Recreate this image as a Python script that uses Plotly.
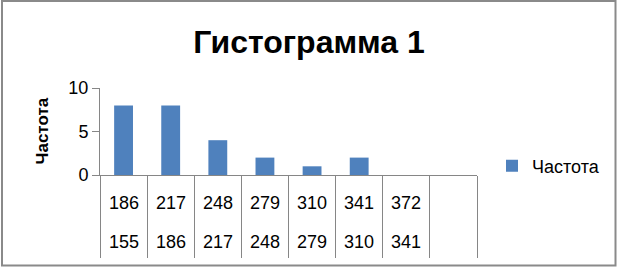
import plotly.graph_objects as go

# Data
upper_labels = ["186", "217", "248", "279", "310", "341", "372", ""]
lower_labels = ["155", "186", "217", "248", "279", "310", "341", ""]
frequency = [8, 8, 4, 2, 1, 2, 0, None]
series_name = "Частота"
title_text = "Гистограмма 1"
y_ticks = [0, 5, 10]

W, H = 617, 267
L, R, T, B = 100, 140, 88, 92
pw = W - L - R
ph = H - T - B

axis_gray = "#868686"
font_family = "Liberation Sans, Arial, sans-serif"

idx = list(range(len(upper_labels)))

fig = go.Figure()
fig.add_trace(go.Bar(
    x=idx, y=frequency, name=series_name,
    marker=dict(color="#4F81BD", line=dict(width=0)),
    width=0.4, showlegend=True,
))

def py(pix):
    return (T + ph - pix) / ph

def px(pix):
    return (pix - L) / pw

annotations = []
for i in idx:
    annotations.append(dict(x=i, xref="x", y=py(203), yref="paper",
                            text=upper_labels[i], showarrow=False,
                            font=dict(size=18, color="#000", family=font_family),
                            xanchor="center", yanchor="middle"))
    annotations.append(dict(x=i, xref="x", y=py(241.5), yref="paper",
                            text=lower_labels[i], showarrow=False,
                            font=dict(size=18, color="#000", family=font_family),
                            xanchor="center", yanchor="middle"))
annotations.append(dict(x=px(42), xref="paper", y=py(131.5), yref="paper",
                        text=series_name, textangle=-90, showarrow=False,
                        font=dict(size=17, color="#000", family=font_family, weight="bold"),
                        xanchor="center", yanchor="middle"))

fig.update_layout(
    width=W, height=H,
    margin=dict(l=L, r=R, t=T, b=B, autoexpand=False),
    paper_bgcolor="white", plot_bgcolor="white",
    font=dict(family=font_family, size=18, color="#000"),
    title=dict(text=title_text, x=309 / W, xref="container", xanchor="center",
               y=1 - 42 / H, yref="container", yanchor="middle",
               font=dict(size=32, color="#000", family=font_family, weight="bold")),
    xaxis=dict(range=[-0.5, len(idx) - 0.5], tickmode="array",
               tickvals=[i - 0.5 for i in range(len(idx) + 1)],
               ticks="outside", ticklen=82, tickcolor=axis_gray, tickwidth=1,
               showticklabels=False, showgrid=False, zeroline=False,
               showline=True, linecolor=axis_gray, linewidth=1, fixedrange=True),
    yaxis=dict(range=[0, 10], tickmode="array", tickvals=y_ticks,
               ticks="outside", ticklen=7, tickcolor=axis_gray, tickwidth=1,
               tickfont=dict(size=18, color="#000"),
               showgrid=False, zeroline=False, showline=True,
               linecolor=axis_gray, linewidth=1, fixedrange=True),
    legend=dict(xref="container", yref="container", x=492 / W, xanchor="left",
                y=1 - 166 / H, yanchor="middle", font=dict(size=18, color="#000"),
                bgcolor="rgba(0,0,0,0)", itemwidth=30),
    annotations=annotations,
    bargap=0.6,
)

fig.add_shape(type="rect", xref="paper", yref="paper",
              x0=px(2), x1=px(615.5), y0=py(265.5), y1=py(1),
              line=dict(color="#8a8a8a", width=2), fillcolor="rgba(0,0,0,0)",
              layer="below")

fig.write_html("out.html")
